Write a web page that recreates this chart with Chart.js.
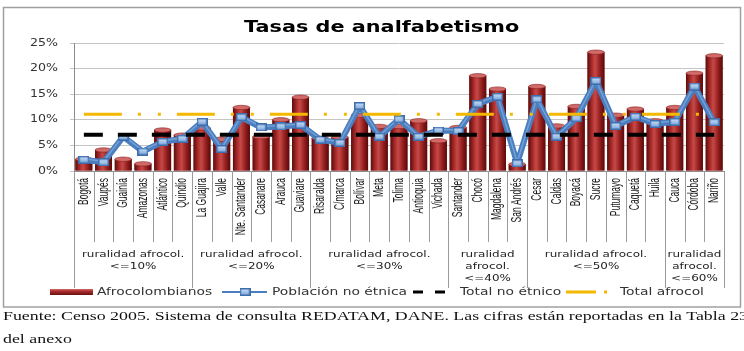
<!DOCTYPE html>
<html>
<head>
<meta charset="utf-8">
<script src="https://cdn.jsdelivr.net/npm/chart.js@4"></script>
<style>
  html, body { margin: 0; padding: 0; background: #fff; }
  canvas { display: block; }
</style>
</head>
<body>
<canvas id="chart" width="744" height="351"></canvas>
<script>
// Data (%)
const labels = ['Bogotá', 'Vaupés', 'Guainía', 'Amazonas', 'Atlántico', 'Quindío',
  'La Guajira', 'Valle', 'Nte. Santander', 'Casanare', 'Arauca', 'Guaviare',
  'Risaralda', 'C/marca', 'Bolívar', 'Meta', 'Tolima', 'Antioquia', 'Vichada',
  'Santander', 'Chocó', 'Magdalena', 'San Andrés',
  'Cesar', 'Caldas', 'Boyacá', 'Sucre', 'Putumayo', 'Caquetá', 'Huila',
  'Cauca', 'Córdoba', 'Nariño'];
const afrocolombianos = [2.3, 4.1, 2.3, 1.4, 8.0, 7.0,
  8.4, 6.2, 12.4, 6.7, 10.0, 14.4,
  6.4, 6.6, 10.9, 8.7, 8.7, 9.8, 5.9,
  8.5, 18.6, 16.0, 1.3,
  16.5, 8.8, 12.6, 23.2, 10.9, 12.1, 9.8,
  12.4, 19.1, 22.5];
const poblacionNoEtnica = [2.2, 1.7, 6.7, 3.8, 5.7, 6.3,
  9.6, 4.3, 10.5, 8.5, 8.7, 9.0,
  6.1, 5.5, 12.7, 6.7, 10.1, 6.7, 7.9,
  7.8, 13.1, 14.5, 1.5,
  14.0, 6.7, 10.3, 17.6, 8.8, 10.6, 9.2,
  9.6, 16.5, 9.5];
const totalNoEtnico = 7.1;
const totalAfrocol = 11.1;
const yTicks = [0, 5, 10, 15, 20, 25];
const groupLabels = [
  ['ruralidad afrocol.', '<=10%'],
  ['ruralidad afrocol.', '<=20%'],
  ['ruralidad afrocol.', '<=30%'],
  ['ruralidad', 'afrocol.', '<=40%'],
  ['ruralidad afrocol.', '<=50%'],
  ['ruralidad', 'afrocol.', '<=60%']
];
const groupSizes = [6, 6, 7, 4, 7, 3];
const seriesNames = ['Afrocolombianos', 'Población no étnica', 'Total no étnico', 'Total afrocol'];
const titleText = 'Tasas de analfabetismo';
const sourceLines = [
  'Fuente: Censo 2005. Sistema de consulta REDATAM, DANE. Las cifras están reportadas en la Tabla 23',
  'del anexo'
];

// the original picture is stretched sideways, text included
const sx = 1.26;

function wideText(ctx, text, x, y, align) {
  ctx.save();
  ctx.translate(x, y);
  ctx.scale(sx, 1);
  ctx.textAlign = align || 'left';
  ctx.fillText(text, 0, 0);
  ctx.restore();
}

// square marker of the blue line
const marker = document.createElement('canvas');
marker.width = 11;
marker.height = 8;
(function() {
  let m = marker.getContext('2d');
  m.fillStyle = '#3d6dad';
  m.fillRect(0, 0, 11, 8);
  let g = m.createLinearGradient(0, 1, 0, 7);
  g.addColorStop(0, '#c6ddf5');
  g.addColorStop(1, '#7fa9dc');
  m.fillStyle = g;
  m.fillRect(1.5, 1.5, 8, 5);
})();

function barGradient(ctx, x0, x1) {
  let g = ctx.createLinearGradient(x0, 0, x1, 0);
  g.addColorStop(0, '#5c0c0c');
  g.addColorStop(0.3, '#b3302f');
  g.addColorStop(0.45, '#c44a48');
  g.addColorStop(0.75, '#921c1c');
  g.addColorStop(1, '#560a0a');
  return g;
}

// shading of the cylinder bars and the blue tube, drawn over the library marks
const shading = {
  id: 'shading',
  afterDatasetDraw(chart, args) {
    const ctx = chart.ctx;
    if (args.index === 0) {
      args.meta.data.forEach(bar => {
        const p = bar.getProps(['x', 'y', 'base', 'width'], true);
        const x0 = p.x - p.width / 2, x1 = p.x + p.width / 2;
        ctx.save();
        ctx.fillStyle = barGradient(ctx, x0, x1);
        ctx.fillRect(x0, p.y, p.width, p.base - p.y);
        // top cap
        ctx.beginPath();
        ctx.ellipse(p.x, p.y, p.width / 2, 2.2, 0, 0, Math.PI * 2);
        ctx.fillStyle = '#d06a68';
        ctx.fill();
        ctx.strokeStyle = '#8a1a1a';
        ctx.lineWidth = 0.6;
        ctx.stroke();
        ctx.restore();
      });
    }
    if (args.index === 1) {
      const pts = args.meta.data;
      ctx.save();
      ctx.strokeStyle = 'rgba(150,190,235,0.55)';
      ctx.lineWidth = 1.5;
      ctx.lineJoin = 'round';
      ctx.beginPath();
      pts.forEach((pt, i) => {
        if (i === 0) ctx.moveTo(pt.x, pt.y - 1);
        else ctx.lineTo(pt.x, pt.y - 1);
      });
      ctx.stroke();
      pts.forEach(pt => ctx.drawImage(marker, pt.x - 5.5, pt.y - 4));
      ctx.restore();
    }
  }
};

const decorations = {
  id: 'decorations',
  beforeDraw(chart) {
    const ctx = chart.ctx;
    ctx.save();
    ctx.fillStyle = '#fff';
    ctx.fillRect(0, 0, chart.width, chart.height);
    ctx.strokeStyle = '#a0a0a0';
    ctx.lineWidth = 1.5;
    ctx.strokeRect(3.5, 7.5, 737, 299.5);
    ctx.restore();
  },
  afterDraw(chart) {
    const ctx = chart.ctx;
    const xs = chart.scales.x, ys = chart.scales.y;
    const area = chart.chartArea;
    ctx.save();

    // title
    ctx.fillStyle = '#000';
    ctx.font = 'bold 16.5px "DejaVu Sans"';
    ctx.textBaseline = 'alphabetic';
    wideText(ctx, titleText, 244, 32);

    // y tick labels
    ctx.fillStyle = '#333';
    ctx.font = '10px "DejaVu Sans"';
    ctx.textBaseline = 'middle';
    yTicks.forEach(v => {
      wideText(ctx, v + '%', area.left - 16, ys.getPixelForValue(v), 'right');
    });

    // category separators and rotated labels
    const step = xs.getPixelForValue(1) - xs.getPixelForValue(0);
    ctx.strokeStyle = '#9a9a9a';
    ctx.lineWidth = 1;
    let edges = [];
    let n = 0;
    groupSizes.forEach(s => { n += s; edges.push(n); });
    for (let i = 0; i <= labels.length; i++) {
      const px = Math.round(xs.getPixelForValue(0) - step / 2 + i * step) + 0.5;
      const isGroup = i === 0 || edges.indexOf(i) >= 0;
      ctx.beginPath();
      ctx.moveTo(px, area.bottom);
      ctx.lineTo(px, isGroup ? 288 : 242);
      ctx.stroke();
    }
    ctx.fillStyle = '#1a1a1a';
    ctx.font = '8.5px "Liberation Sans"';
    ctx.textBaseline = 'middle';
    labels.forEach((lab, i) => {
      ctx.save();
      ctx.translate(xs.getPixelForValue(i), area.bottom + 7);
      ctx.rotate(-Math.PI / 2);
      ctx.scale(1, 1.7);
      ctx.textAlign = 'right';
      ctx.fillText(lab, 0, 0);
      ctx.restore();
    });

    // group labels
    ctx.fillStyle = '#222';
    ctx.font = '9.5px "DejaVu Sans"';
    let start = 0;
    groupSizes.forEach((s, g) => {
      const cx = (xs.getPixelForValue(start) + xs.getPixelForValue(start + s - 1)) / 2;
      groupLabels[g].forEach((line, k) => {
        wideText(ctx, line, cx, 255 + k * 12, 'center');
      });
      start += s;
    });

    // legend
    const ly = 292;
    let g = ctx.createLinearGradient(0, ly - 3, 0, ly + 3);
    g.addColorStop(0, '#d06a68');
    g.addColorStop(0.4, '#a82a2a');
    g.addColorStop(1, '#6a1010');
    ctx.fillStyle = g;
    ctx.fillRect(50, ly - 3, 43, 6);
    ctx.strokeStyle = '#4a7ebf';
    ctx.lineWidth = 2;
    ctx.beginPath();
    ctx.moveTo(222, ly);
    ctx.lineTo(267, ly);
    ctx.stroke();
    ctx.drawImage(marker, 245 - 5.5, ly - 4);
    ctx.strokeStyle = '#000';
    ctx.lineWidth = 3;
    ctx.beginPath();
    ctx.moveTo(413, ly); ctx.lineTo(423, ly);
    ctx.moveTo(435, ly); ctx.lineTo(445, ly);
    ctx.stroke();
    ctx.strokeStyle = '#f5b800';
    ctx.beginPath();
    ctx.moveTo(566, ly); ctx.lineTo(596, ly);
    ctx.moveTo(604, ly); ctx.lineTo(607, ly);
    ctx.stroke();
    ctx.fillStyle = '#333';
    ctx.font = '11px "DejaVu Sans"';
    ctx.textBaseline = 'middle';
    [97, 272, 460, 620].forEach((x, i) => wideText(ctx, seriesNames[i], x, ly));

    // source note under the frame
    ctx.fillStyle = '#111';
    ctx.font = '13px "Liberation Serif"';
    ctx.textBaseline = 'alphabetic';
    const fit = 745 / ctx.measureText(sourceLines[0]).width;
    sourceLines.forEach((line, k) => {
      ctx.save();
      ctx.translate(3, 320 + k * 23);
      ctx.scale(fit, 1);
      ctx.fillText(line, 0, 0);
      ctx.restore();
    });
    ctx.restore();
  }
};

new Chart(document.getElementById('chart'), {
  type: 'bar',
  data: {
    labels: labels,
    datasets: [
      {
        type: 'bar',
        label: seriesNames[0],
        data: afrocolombianos,
        backgroundColor: '#a52626',
        barPercentage: 0.86,
        categoryPercentage: 1,
        order: 4
      },
      {
        type: 'line',
        label: seriesNames[1],
        data: poblacionNoEtnica,
        borderColor: '#4a7ebf',
        borderWidth: 6,
        borderJoinStyle: 'round',
        tension: 0,
        pointRadius: 0,
        order: 3
      },
      {
        type: 'line',
        label: seriesNames[2],
        data: [{ x: labels[0], y: totalNoEtnico }, { x: labels[labels.length - 1], y: totalNoEtnico }],
        borderColor: '#000',
        borderWidth: 4,
        borderDash: [19, 15],
        pointRadius: 0,
        order: 2
      },
      {
        type: 'line',
        label: seriesNames[3],
        data: [{ x: labels[0], y: totalAfrocol }, { x: labels[labels.length - 1], y: totalAfrocol }],
        borderColor: '#f5b800',
        borderWidth: 3,
        borderDash: [38, 16, 3, 17, 3, 16],
        pointRadius: 0,
        order: 1
      }
    ]
  },
  options: {
    responsive: false,
    animation: false,
    layout: { padding: { left: 70, right: 20, top: 43, bottom: 180 } },
    plugins: {
      legend: { display: false },
      title: { display: false },
      tooltip: { enabled: false }
    },
    scales: {
      x: {
        type: 'category',
        offset: true,
        grid: { display: false },
        border: { color: '#8c8c8c' },
        ticks: { display: false },
        afterFit: s => { s.height = 0; }
      },
      y: {
        min: 0,
        max: 25,
        ticks: { display: false, stepSize: 5 },
        grid: { color: '#c4c4c4', tickLength: 4 },
        border: { color: '#8c8c8c' },
        afterFit: s => { s.width = 4; }
      }
    }
  },
  plugins: [shading, decorations]
});
</script>
</body>
</html>
